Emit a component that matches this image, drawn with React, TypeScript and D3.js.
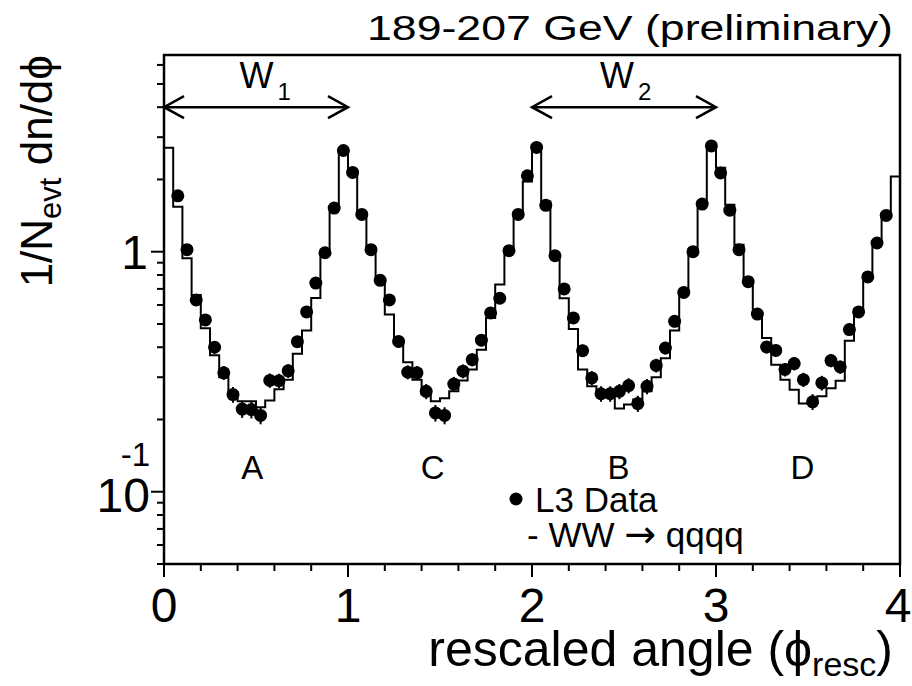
import React from 'react';
import * as d3 from 'd3';

// bin contents, 80 bins of width 0.05 in the rescaled angle
const mcValues = [
  2.71, 1.54, 0.94, 0.66, 0.48, 0.37, 0.30, 0.26, 0.238, 0.238,
  0.225, 0.24, 0.267, 0.293, 0.376, 0.47, 0.641, 0.99, 1.54, 2.66,
  2.16, 1.43, 1.02, 0.764, 0.547, 0.423, 0.346, 0.293, 0.254, 0.238,
  0.245, 0.262, 0.291, 0.323, 0.39, 0.53, 0.73, 1.0, 1.4, 1.96,
  2.6, 1.62, 0.97, 0.64, 0.477, 0.323, 0.275, 0.254, 0.254, 0.222,
  0.231, 0.242, 0.262, 0.30, 0.36, 0.47, 0.69, 1.02, 1.62, 2.66,
  2.24, 1.57, 1.07, 0.76, 0.55, 0.437, 0.338, 0.293, 0.266, 0.233,
  0.233, 0.25, 0.27, 0.29, 0.426, 0.574, 0.79, 1.09, 1.45, 2.06,
];

const dataValues: (number | null)[] = [
  null, 1.71, 1.02, 0.63, 0.52, 0.40, 0.313, 0.254, 0.221, 0.22,
  0.208, 0.291, 0.29, 0.319, 0.422, 0.561, 0.74, 0.99, 1.52, 2.64,
  2.14, 1.43, 1.02, 0.76, 0.63, 0.423, 0.315, 0.313, 0.262, 0.213,
  0.208, 0.281, 0.318, 0.355, 0.428, 0.556, 0.64, 1.01, 1.43, 2.07,
  2.72, 1.56, 0.962, 0.70, 0.53, 0.387, 0.298, 0.256, 0.256, 0.262,
  0.277, 0.233, 0.275, 0.336, 0.397, 0.513, 0.677, 1.0, 1.58, 2.76,
  2.13, 1.49, 1.02, 0.75, 0.55, 0.401, 0.388, 0.323, 0.342, 0.293,
  0.237, 0.284, 0.352, 0.331, 0.474, 0.561, 0.785, 1.087, 1.416, null,
];

const dataErrors = [
  0, 0.06, 0.04, 0.03, 0.028, 0.024, 0.021, 0.019, 0.018, 0.018,
  0.017, 0.02, 0.02, 0.021, 0.024, 0.028, 0.032, 0.04, 0.055, 0.08,
  0.07, 0.055, 0.04, 0.033, 0.03, 0.024, 0.021, 0.021, 0.019, 0.017,
  0.017, 0.02, 0.021, 0.022, 0.024, 0.028, 0.03, 0.04, 0.055, 0.07,
  0.08, 0.055, 0.04, 0.032, 0.028, 0.023, 0.02, 0.019, 0.019, 0.019,
  0.02, 0.018, 0.02, 0.022, 0.024, 0.028, 0.032, 0.04, 0.055, 0.08,
  0.07, 0.055, 0.04, 0.033, 0.028, 0.024, 0.023, 0.021, 0.022, 0.02,
  0.018, 0.02, 0.022, 0.021, 0.026, 0.028, 0.033, 0.042, 0.05, 0,
];

const xTickLabels = ['0', '1', '2', '3', '4'];
const regionLabels = [
  { name: 'A', at: 0.48 },
  { name: 'C', at: 1.46 },
  { name: 'B', at: 2.47 },
  { name: 'D', at: 3.47 },
];
const wArrows = [
  { name: 'W', sub: '1', from: 0, to: 1, labelAt: 0.41 },
  { name: 'W', sub: '2', from: 2, to: 3, labelAt: 2.37 },
];

const BIN = 0.05;
const FONT = '"Liberation Sans", Arial, Helvetica, sans-serif';

export default function App() {
  const width = 912;
  const height = 686;
  const x = d3.scaleLinear().domain([0, 4]).range([164, 900]);
  const y = d3.scaleLog().domain([0.05, 6.6]).range([564, 55]);

  const histPts: [number, number][] = mcValues.map((v, i) => [i * BIN, v]);
  histPts.push([4, mcValues[mcValues.length - 1]]);
  const histLine = d3
    .line<[number, number]>()
    .x(d => x(d[0]))
    .y(d => y(d[1]))
    .curve(d3.curveStepAfter);

  const xMajor = d3.range(0, 5);
  const xMinor = d3.range(0, 20).map(i => i * 0.2).filter(v => Math.abs(v - Math.round(v)) > 1e-6);
  const yTicks = y.ticks();
  const isMajorY = (v: number) => Math.abs(Math.log10(v) - Math.round(Math.log10(v))) < 1e-6;

  const arrowY = y(4.0);

  return (
    <svg
      width={width}
      height={height}
      style={{ position: 'absolute', left: 0, top: 0, background: '#fff' }}
      fontFamily={FONT}
    >
      <rect width={width} height={height} fill="#fff" />

      {/* title */}
      <text x={893} y={40} textAnchor="end" fontSize={35} textLength={526} lengthAdjust="spacingAndGlyphs">
        189-207 GeV (preliminary)
      </text>

      {/* histogram */}
      <path d={histLine(histPts) || ''} fill="none" stroke="#000" strokeWidth={2} />

      {/* data points */}
      {dataValues.map((v, i) => {
        if (v == null) return null;
        const cx = x((i + 0.5) * BIN);
        const e = dataErrors[i];
        return (
          <g key={i}>
            <line x1={cx} x2={cx} y1={y(v + e)} y2={y(Math.max(v - e, 0.051))} stroke="#000" strokeWidth={2} />
            <circle cx={cx} cy={y(v)} r={6.5} fill="#000" />
          </g>
        );
      })}

      {/* frame */}
      <rect x={164} y={55} width={736} height={509} fill="none" stroke="#000" strokeWidth={2.5} />

      {/* x ticks */}
      {xMajor.map(v => (
        <line key={'xM' + v} x1={x(v)} x2={x(v)} y1={564} y2={577} stroke="#000" strokeWidth={2} />
      ))}
      {xMinor.map(v => (
        <line key={'xm' + v} x1={x(v)} x2={x(v)} y1={564} y2={571} stroke="#000" strokeWidth={2} />
      ))}
      {xMajor.map((v, i) => (
        <text key={'xl' + v} x={x(v) - (i === 4 ? 2 : 0)} y={622} textAnchor="middle" fontSize={48}>
          {xTickLabels[i]}
        </text>
      ))}

      {/* y ticks */}
      {yTicks.map(v => (
        <line
          key={'y' + v}
          x1={164}
          x2={isMajorY(v) ? 151 : 157}
          y1={y(v)}
          y2={y(v)}
          stroke="#000"
          strokeWidth={2}
        />
      ))}
      <text x={148} y={y(1) + 17} textAnchor="end" fontSize={48}>1</text>
      <text x={150} y={y(0.1) + 20} textAnchor="end" fontSize={48}>10</text>
      <text x={150} y={y(0.1) - 26} textAnchor="end" fontSize={33}>-1</text>

      {/* axis titles */}
      <text x={893} y={666} textAnchor="end" fontSize={50}>
        rescaled angle (ϕ
        <tspan fontSize={34} dy={10}>resc</tspan>
        <tspan dy={-10}>)</tspan>
      </text>
      <text transform="translate(52,55) rotate(-90)" textAnchor="end" fontSize={44}>
        1/N
        <tspan fontSize={31} dy={9}>evt</tspan>
        <tspan dy={-9}> dn/dϕ</tspan>
      </text>

      {/* W arrows */}
      {wArrows.map(a => {
        const x1 = x(a.from);
        const x2 = x(a.to);
        return (
          <g key={a.sub} stroke="#000" strokeWidth={2.5} fill="none">
            <line x1={x1} x2={x2} y1={arrowY} y2={arrowY} />
            <polyline points={`${x1 + 20},${arrowY - 11} ${x1},${arrowY} ${x1 + 20},${arrowY + 11}`} />
            <polyline points={`${x2 - 20},${arrowY - 11} ${x2},${arrowY} ${x2 - 20},${arrowY + 11}`} />
            <text x={x(a.labelAt)} y={arrowY - 19} fontSize={36} stroke="none" fill="#000">
              {a.name}
              <tspan fontSize={24} dx={4} dy={12}>{a.sub}</tspan>
            </text>
          </g>
        );
      })}

      {/* region labels */}
      {regionLabels.map(r => (
        <text key={r.name} x={x(r.at)} y={479} textAnchor="middle" fontSize={33}>
          {r.name}
        </text>
      ))}

      {/* legend */}
      <circle cx={516} cy={499} r={6.5} fill="#000" />
      <text x={535} y={512} fontSize={35}>L3 Data</text>
      <text x={527} y={547} fontSize={35}>
        - WW <tspan fontFamily='"DejaVu Sans", sans-serif' fontSize={38}>→</tspan> qqqq
      </text>
    </svg>
  );
}
